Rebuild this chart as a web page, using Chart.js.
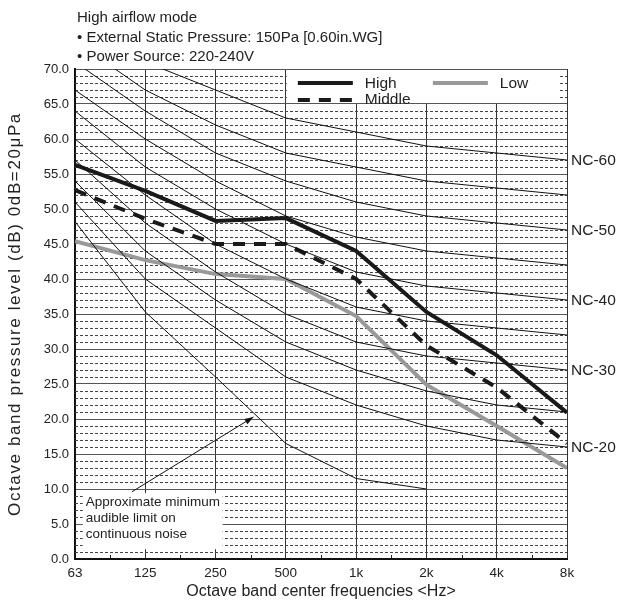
<!DOCTYPE html>
<html>
<head>
<meta charset="utf-8">
<script src="https://cdn.jsdelivr.net/npm/chart.js@4.4.1/dist/chart.umd.min.js"></script>
<style>
  html, body { margin: 0; padding: 0; background: #fff; }
  #wrap { width: 631px; height: 605px; }
</style>
</head>
<body>
<div id="wrap"><canvas id="chart" width="631" height="605"></canvas></div>
<script>
// octave bands (x positions 0..7)
const bands = ['63', '125', '250', '500', '1k', '2k', '4k', '8k'];

// measured sound levels, dB
const high = [56.3, 52.6, 48.3, 48.7, 44.0, 35.3, 29.1, 20.9];
const middle = [52.7, 48.6, 45.0, 45.0, 40.0, 30.5, 24.5, 16.5];
const low = [45.4, 42.7, 40.7, 40.0, 34.7, 24.9, 19.0, 13.0];

// NC reference curves
const ncNames = ['NC-20', 'NC-25', 'NC-30', 'NC-35', 'NC-40', 'NC-45', 'NC-50', 'NC-55', 'NC-60'];
const nc20 = [51, 40, 33, 26, 22, 19, 17, 16];
const nc25 = [54, 44, 37, 31, 27, 24, 22, 21];
const nc30 = [57, 48, 41, 35, 31, 29, 28, 27];
const nc35 = [60, 52, 45, 40, 36, 34, 33, 32];
const nc40 = [64, 56, 50, 45, 41, 39, 38, 37];
const nc45 = [67, 60, 54, 49, 46, 44, 43, 42];
const nc50 = [71, 64, 58, 54, 51, 49, 48, 47];
const nc55 = [74, 67, 62, 58, 56, 54, 53, 52];
const nc60 = [77, 71, 67, 63, 61, 59, 58, 57];
const ncLabelled = ['NC-20', 'NC-30', 'NC-40', 'NC-50', 'NC-60'];

// approximate minimum audible limit (63 Hz .. 2 kHz)
const audible = [48.2, 35.3, 26.0, 16.5, 11.5, 10.0];

const yTicks = [0, 5, 10, 15, 20, 25, 30, 35, 40, 45, 50, 55, 60, 65, 70];
const header = ['High airflow mode', '\u2022 External Static Pressure: 150Pa [0.60in.WG]', '\u2022 Power Source: 220-240V'];
const yTitle = 'Octave band pressure level (dB) 0dB=20\u03bcPa';
const noteLines = ['Approximate minimum', 'audible limit on', 'continuous noise'];
const arrowFrom = [0.81, 9.6];
const arrowTo = [2.54, 20.3];

const FONT = '"Liberation Sans", Arial, sans-serif';
const toPts = arr => arr.map((v, i) => ({ x: i, y: v }));

const ncSets = [nc20, nc25, nc30, nc35, nc40, nc45, nc50, nc55, nc60].map((vals, i) => ({
    label: ncNames[i], data: toPts(vals), borderColor: '#111', borderWidth: 1,
    pointRadius: 0, tension: 0
}));

const extras = {
    id: 'extras',
    beforeDatasetsDraw(chart) {
        const { ctx, chartArea: a, scales: { x, y } } = chart;
        ctx.save();
        // dashed 1 dB grid
        ctx.strokeStyle = '#444';
        ctx.lineWidth = 1;
        ctx.setLineDash([3, 2]);
        for (let v = 1; v < 70; v++) {
            if (v % 5 === 0) continue;
            const py = Math.round(y.getPixelForValue(v)) + 0.5;
            ctx.beginPath(); ctx.moveTo(a.left, py); ctx.lineTo(a.right, py); ctx.stroke();
        }
        ctx.setLineDash([]);
        // minor ticks between bands
        ctx.strokeStyle = '#222';
        for (let i = 0.5; i < 7; i += 1) {
            const px = Math.round(x.getPixelForValue(i)) + 0.5;
            ctx.beginPath(); ctx.moveTo(px, a.bottom); ctx.lineTo(px, a.bottom - 4); ctx.stroke();
        }
        ctx.restore();
    },
    afterDatasetsDraw(chart) {
        const { ctx, chartArea: a, scales: { x, y } } = chart;
        ctx.save();

        // legend box
        const lx = x.getPixelForValue(3);
        const ly = y.getPixelForValue(65);
        ctx.fillStyle = '#fff';
        ctx.fillRect(lx + 1, a.top + 1, x.getPixelForValue(6.9) - lx - 1, ly - a.top - 2);
        ctx.lineWidth = 4;
        ctx.strokeStyle = '#1a1a1a';
        ctx.beginPath(); ctx.moveTo(lx + 12, a.top + 14); ctx.lineTo(lx + 67, a.top + 14); ctx.stroke();
        ctx.setLineDash([12, 9]);
        ctx.beginPath(); ctx.moveTo(lx + 12, a.top + 31); ctx.lineTo(lx + 67, a.top + 31); ctx.stroke();
        ctx.setLineDash([]);
        ctx.strokeStyle = '#999';
        ctx.beginPath(); ctx.moveTo(lx + 147, a.top + 14); ctx.lineTo(lx + 202, a.top + 14); ctx.stroke();
        ctx.fillStyle = '#222';
        ctx.font = '15.5px ' + FONT;
        ctx.textBaseline = 'alphabetic';
        ctx.textAlign = 'left';
        ctx.fillText('High', lx + 79, a.top + 19);
        ctx.fillText('Middle', lx + 79, a.top + 35);
        ctx.fillText('Low', lx + 214, a.top + 19);

        // note box
        const bx0 = x.getPixelForValue(0.11), bx1 = x.getPixelForValue(2.1);
        const by0 = y.getPixelForValue(9.4), by1 = y.getPixelForValue(1.4);
        ctx.fillStyle = '#fff';
        ctx.fillRect(bx0, by0, bx1 - bx0, by1 - by0);
        ctx.fillStyle = '#222';
        ctx.font = '13.5px ' + FONT;
        noteLines.forEach((t, i) => ctx.fillText(t, bx0 + 3, by0 + 13 + i * 16));

        // arrow to the audible limit curve
        const ax0 = x.getPixelForValue(arrowFrom[0]), ay0 = y.getPixelForValue(arrowFrom[1]);
        const ax1 = x.getPixelForValue(arrowTo[0]), ay1 = y.getPixelForValue(arrowTo[1]);
        ctx.strokeStyle = '#111';
        ctx.lineWidth = 1;
        ctx.beginPath(); ctx.moveTo(ax0, ay0); ctx.lineTo(ax1, ay1); ctx.stroke();
        const ang = Math.atan2(ay1 - ay0, ax1 - ax0);
        ctx.fillStyle = '#111';
        ctx.beginPath();
        ctx.moveTo(ax1, ay1);
        ctx.lineTo(ax1 - 9 * Math.cos(ang) + 3 * Math.sin(ang), ay1 - 9 * Math.sin(ang) - 3 * Math.cos(ang));
        ctx.lineTo(ax1 - 9 * Math.cos(ang) - 3 * Math.sin(ang), ay1 - 9 * Math.sin(ang) + 3 * Math.cos(ang));
        ctx.closePath(); ctx.fill();

        // NC labels at the right edge
        ctx.font = '15.5px ' + FONT;
        ctx.fillStyle = '#222';
        ctx.textBaseline = 'middle';
        chart.data.datasets.forEach(ds => {
            if (!ncLabelled.includes(ds.label)) return;
            const last = ds.data[ds.data.length - 1];
            ctx.fillText(ds.label, a.right + 4, y.getPixelForValue(last.y) + 1);
        });

        // header
        ctx.textBaseline = 'alphabetic';
        ctx.font = '15px ' + FONT;
        header.forEach((t, i) => ctx.fillText(t, a.left + 2, 22 + i * 19.7));

        // y axis title, long like the original
        ctx.translate(15, (a.top + a.bottom) / 2);
        ctx.rotate(-Math.PI / 2);
        ctx.font = '17px ' + FONT;
        ctx.textAlign = 'center';
        ctx.textBaseline = 'middle';
        if ('letterSpacing' in ctx) ctx.letterSpacing = '1.6px';
        ctx.fillText(yTitle, 0, 0);
        ctx.restore();
    }
};

new Chart(document.getElementById('chart'), {
    type: 'line',
    data: {
        datasets: [
            ...ncSets,
            { label: 'audible', data: toPts(audible), borderColor: '#111', borderWidth: 1, pointRadius: 0 },
            { label: 'Low', data: toPts(low), borderColor: '#999', borderWidth: 4, pointRadius: 0 },
            { label: 'Middle', data: toPts(middle), borderColor: '#1a1a1a', borderWidth: 4, borderDash: [12, 9], pointRadius: 0 },
            { label: 'High', data: toPts(high), borderColor: '#1a1a1a', borderWidth: 4, pointRadius: 0 }
        ]
    },
    options: {
        responsive: false,
        animation: false,
        devicePixelRatio: 1,
        layout: { padding: { top: 69, right: 64, left: 0, bottom: 0 } },
        plugins: { legend: { display: false }, tooltip: { enabled: false } },
        scales: {
            x: {
                type: 'linear', min: 0, max: 7,
                afterFit: s => { s.height = 46; },
                afterBuildTicks: s => { s.ticks = bands.map((b, i) => ({ value: i })); },
                ticks: { callback: v => bands[v], font: { size: 13.5, family: FONT }, color: '#222', padding: 6, maxRotation: 0 },
                grid: { color: '#333', lineWidth: 1, drawTicks: false },
                border: { color: '#111', width: 2 },
                title: { display: true, text: 'Octave band center frequencies <Hz>', font: { size: 16, family: FONT }, color: '#222', padding: { top: 4 } }
            },
            y: {
                min: 0, max: 70,
                afterFit: s => { s.width = 75; },
                afterBuildTicks: s => { s.ticks = yTicks.map(v => ({ value: v })); },
                ticks: { callback: v => v.toFixed(1), font: { size: 13, family: FONT }, color: '#222', padding: 6 },
                grid: { color: '#555', lineWidth: 1, drawTicks: false },
                border: { color: '#111', width: 2 },
                title: { display: false }
            }
        }
    },
    plugins: [extras]
});
</script>
</body>
</html>
